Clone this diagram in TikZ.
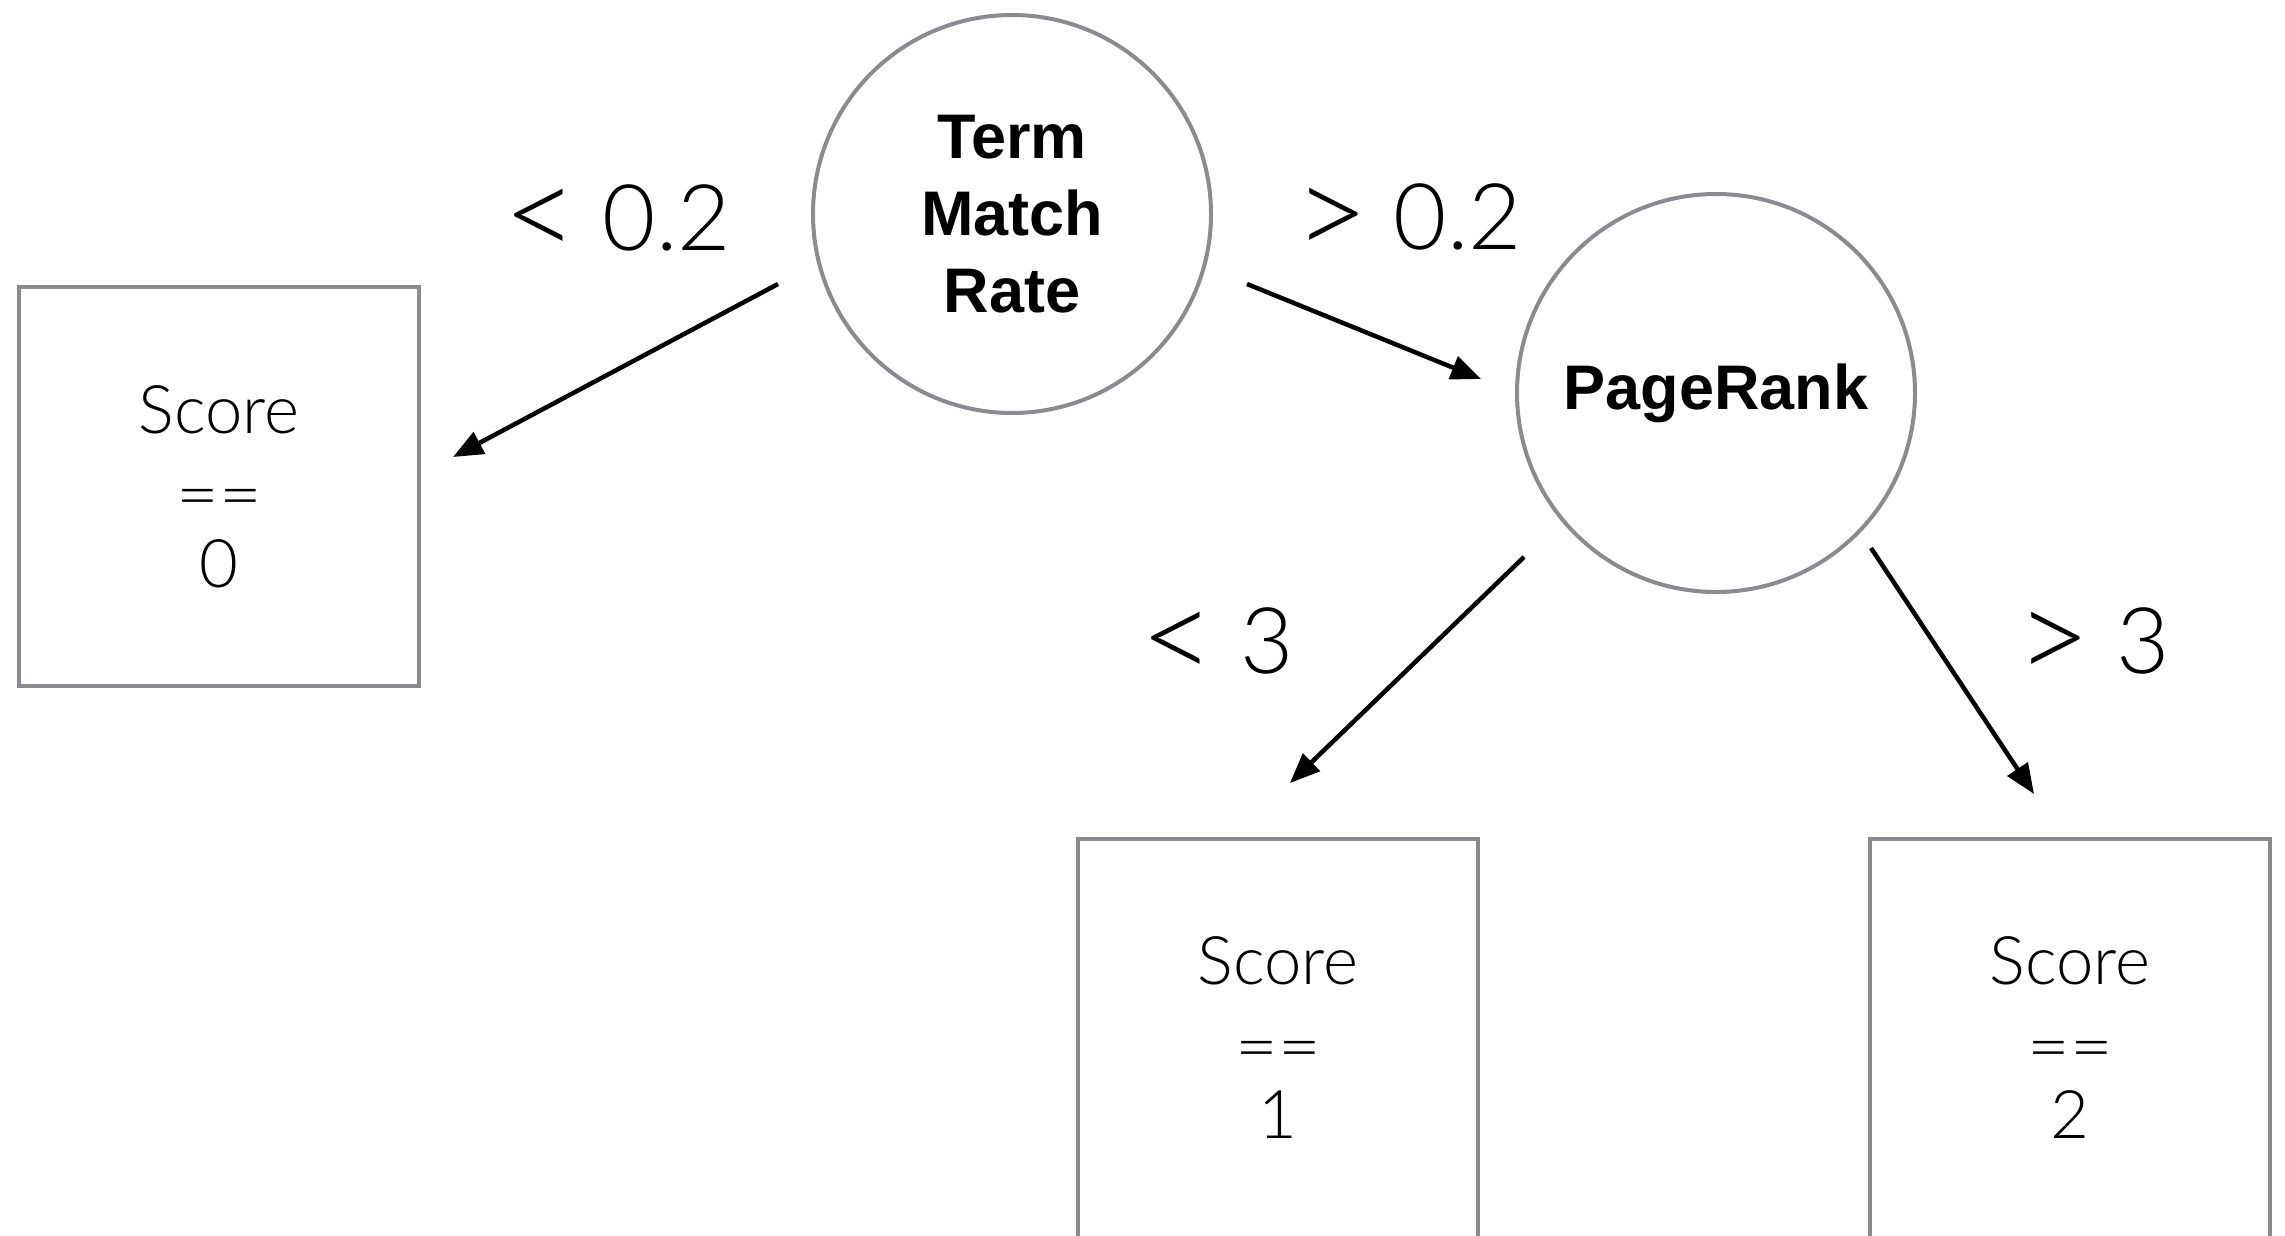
\documentclass[tikz,border=0pt]{standalone}
\usepackage{fontspec}
\usepackage{graphicx}
\setmainfont{Liberation Sans}
\newfontfamily\lightfont{Lato Light}
\usetikzlibrary{arrows.meta}
\definecolor{edgegray}{RGB}{137,139,143}
\newcommand\relsign[1]{\raisebox{-0.09em}{\scalebox{1.4}{#1}}}
\newcommand\eqeq{\raisebox{-0.12em}{\scalebox{1.1}[1]{==}}}
\begin{document}
\begin{tikzpicture}[x=1pt,y=-1pt,
  decision/.style={circle, draw=edgegray, line width=4pt, minimum size=398pt, inner sep=0pt,
    align=center, font=\fontsize{63}{77}\selectfont\bfseries},
  leaf/.style={rectangle, draw=edgegray, line width=4pt, minimum width=400pt, minimum height=399pt,
    inner sep=0pt, align=center, font=\lightfont\fontsize{67}{77}\selectfont},
  cond/.style={anchor=base, inner sep=0pt, font=\lightfont\fontsize{92}{100}\selectfont},
  branch/.style={line width=4.5pt, -{Triangle[length=30pt,width=24pt]}}]
\useasboundingbox (0,0) rectangle (2285,1236);
\fill[white] (0,0) rectangle (2285,1236);

\node[decision] (tmr) at (1012,214) {Term\\Match\\Rate};
\node[decision] (pr) at (1716,393) {PageRank};

\node[leaf] (s0) at (219,486.5) {Score\\\eqeq\\0};
\node[leaf] (s1) at (1278,1038) {Score\\\eqeq\\1};
\node[leaf] (s2) at (2070,1038) {Score\\\eqeq\\2};

\node[cond] (c1) at (617,250) {\relsign{<} 0.2};
\node[cond] (c2) at (1408,249) {\relsign{>} 0.2};
\node[cond] (c3) at (1217,673) {\relsign{<} 3};
\node[cond] (c4) at (2093,673) {\relsign{>} 3};

\coordinate (a1s) at (778,284);  \coordinate (a1e) at (453,457);
\coordinate (a2s) at (1247,284); \coordinate (a2e) at (1481,379);
\coordinate (a3s) at (1524,557); \coordinate (a3e) at (1290,783);
\coordinate (a4s) at (1871,548); \coordinate (a4e) at (2034,794);

\draw[branch] (a1s) -- (a1e);
\draw[branch] (a2s) -- (a2e);
\draw[branch] (a3s) -- (a3e);
\draw[branch] (a4s) -- (a4e);
\end{tikzpicture}
\end{document}
